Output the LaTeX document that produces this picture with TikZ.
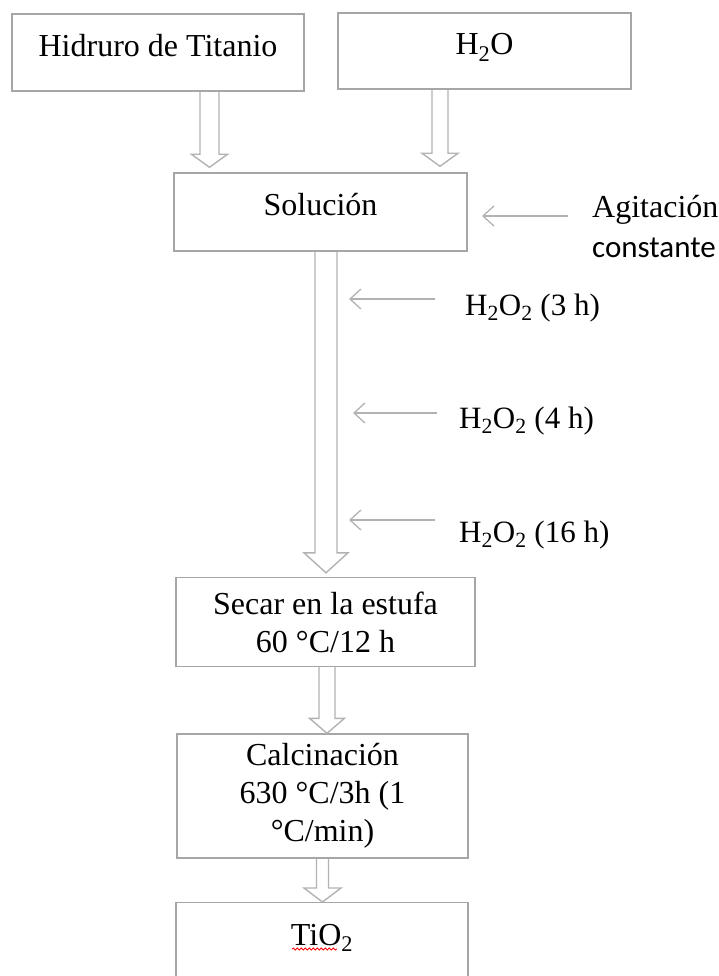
\documentclass[tikz,border=0pt]{standalone}
\usepackage{fontspec}
\setmainfont{Liberation Serif}
\newfontfamily\carlito{Carlito}
\usetikzlibrary{arrows.meta,calc,decorations.pathmorphing}
\definecolor{boxgray}{HTML}{A6A6A6}
\definecolor{flowgray}{HTML}{B2B2B2}
\tikzset{
  flow/.style n args={3}{draw=flowgray, line width=1.4pt,
    to path={let \p1=(\tikztostart), \p2=(\tikztotarget) in
      (\x1-#1,\y1) -- (\x1-#1,\y2+#3) -- (\x1-#2,\y2+#3) -- (\x1,\y2)
      -- (\x1+#2,\y2+#3) -- (\x1+#1,\y2+#3) -- (\x1+#1,\y1)}},
  feed/.style={draw=flowgray, line width=1.3pt,
    -{Straight Barb[length=11pt,width=20pt]}},
  oneline/.style={text height=22pt,text depth=14pt}
}
\begin{document}
\begin{tikzpicture}[x=1pt,y=-1pt]
      \useasboundingbox (0,0) rectangle (719,976);
      \begin{scope}[every node/.style={draw=boxgray,line width=1.4pt,inner sep=0pt,font=\fontsize{32}{38}\selectfont}]
        \node[oneline,minimum width=292pt,minimum height=77pt] (hid) at (158,52.5) {Hidruro de Titanio};
        \node[oneline,minimum width=293pt,minimum height=76pt] (h2o) at (484.5,51) {H\textsubscript{2}O};
        \node[oneline,minimum width=293pt,minimum height=78pt] (sol) at (320.5,212) {Solución};
        \node[minimum width=299pt,minimum height=89pt,align=center] (sec) at (325.5,622) {Secar en la estufa\\60 °C/12 h};
        \node[minimum width=291pt,minimum height=124pt,align=center] (cal) at (322.5,796) {Calcinación\\630 °C/3h (1\\°C/min)};
        \node[anchor=north,minimum width=292pt,text height=43pt,text depth=60pt] (tio) at (322,902) {TiO\textsubscript{2}};
      \end{scope}
      \begin{scope}[every node/.style={inner sep=0pt,font=\fontsize{31}{40}\selectfont}]
        \node[anchor=north west,align=left] (agi) at (592,195) {{\rmfamily\fontsize{32}{40}\selectfont Agitación}\\{\carlito constante}};
        \node[anchor=base west] (w1) at (465,315) {H\textsubscript{2}O\textsubscript{2} (3 h)};
        \node[anchor=base west] (w2) at (459,428) {H\textsubscript{2}O\textsubscript{2} (4 h)};
        \node[anchor=base west] (w3) at (459,542) {H\textsubscript{2}O\textsubscript{2} (16 h)};
      \end{scope}
      % hollow arrows
      \path ([xshift=51.5pt]hid.south) edge[flow={9.5pt}{18pt}{13pt}] ([yshift=5pt]sol.north);
      \path ([xshift=-44.5pt]h2o.south) edge[flow={8pt}{18pt}{13pt}] ([yshift=6pt]sol.north);
      \path ([xshift=5.5pt]sol.south) edge[flow={11pt}{22pt}{20pt}] ([yshift=4pt]sec.north);
      \path ([xshift=1.5pt]sec.south) edge[flow={8pt}{17.5pt}{15pt}] (cal.north);
      \path (cal.south) edge[flow={6pt}{18.5pt}{14pt}] (tio.north);
      % feed arrows
      \coordinate (a0) at (482,216);
      \coordinate (c1) at (349,299);
      \coordinate (c2) at (353,413);
      \coordinate (c3) at (349,520);
      \draw[feed,shorten <=24pt] (agi.west |- a0) -- (a0);
      \draw[feed,shorten <=30pt] (w1.west |- c1) -- (c1);
      \draw[feed,shorten <=22pt] (w2.west |- c2) -- (c2);
      \draw[feed,shorten <=24pt] (w3.west |- c3) -- (c3);
      \draw[red,line width=0.8pt,decorate,decoration={snake,amplitude=1pt,segment length=4pt}] (292,949) -- (337,949);
    \end{tikzpicture}
\end{document}
